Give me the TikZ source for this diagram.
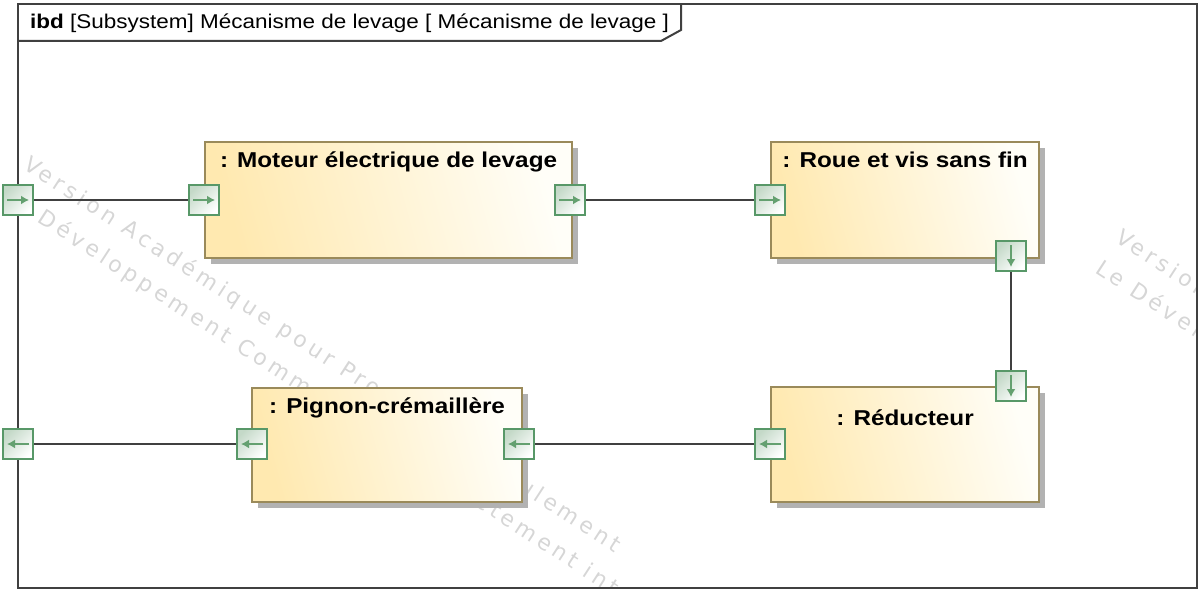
\documentclass[tikz,border=0pt]{standalone}
\usepackage{fontspec}
\setmainfont{Liberation Sans}[FakeStretch=1.13]
\newfontfamily\wmfont{DejaVu Sans}[LetterSpace=19]
\usetikzlibrary{arrows.meta,shadows}

\definecolor{frameline}{RGB}{64,64,64}
\definecolor{partedge}{RGB}{154,138,90}
\definecolor{partfill}{RGB}{255,233,176}
\definecolor{partwhite}{RGB}{255,254,248}
\definecolor{portedge}{RGB}{88,152,104}
\definecolor{portfill}{RGB}{196,217,200}
\definecolor{portarrow}{RGB}{100,160,112}
\definecolor{wmgray}{RGB}{214,214,214}

\begin{document}
\begin{tikzpicture}[x=1pt,y=-1pt,
  part/.style={draw=partedge, line width=2.2pt, left color=partfill, right color=partwhite,
    shading angle=105, anchor=north west, inner sep=0pt,
    drop shadow={shadow xshift=6pt, shadow yshift=-6pt, opacity=1, fill=black!30}},
  title/.style={anchor=base, yshift=-26pt, inner sep=0pt, font=\fontsize{21.5}{24}\selectfont\bfseries},
  port/.style={draw=portedge, line width=2.4pt, top color=portfill, bottom color=white,
    shading angle=45, minimum size=30pt, inner sep=0pt},
  parrow/.style={portarrow, line width=1.8pt, -{Latex[length=8pt,width=9pt]}},
  portR/.style={port, path picture={\draw[parrow] ([xshift=4pt]path picture bounding box.west) -- ([xshift=-4pt]path picture bounding box.east);}},
  portL/.style={port, path picture={\draw[parrow] ([xshift=-4pt]path picture bounding box.east) -- ([xshift=4pt]path picture bounding box.west);}},
  portD/.style={port, path picture={\draw[parrow] ([yshift=-4pt]path picture bounding box.north) -- ([yshift=4pt]path picture bounding box.south);}},
  conn/.style={draw=frameline, line width=2pt},
  wm/.style={anchor=base west, rotate=-33, text=wmgray, inner sep=0pt, font=\wmfont\fontsize{22}{24}\selectfont}]
\useasboundingbox (0,0) rectangle (1203,594);

% watermark
\begin{scope}
\clip (18,4) rectangle (1197,588);
\node[wm] (wmA) at (22,168) {Version Académique pour Professeurs seulement};
\node[wm] (wmB) at (2,199) {Le Développement Commercial est strictement interdit};
\node[wm] (wmC) at (1114,241) {Version Académique pour Professeurs seulement};
\node[wm] (wmD) at (1094,272) {Le Développement Commercial est strictement interdit};
\end{scope}

% frame
\draw[conn] (18,4) rectangle (1197,588);
\draw[conn] (18,41) -- (661,41) -- (681,30) -- (681,4);
\node[anchor=base west, inner sep=0pt, font=\fontsize{19.9}{22}\selectfont] (hdr) at (30,29)
  {\textbf{ibd} [Subsystem] Mécanisme de levage [ Mécanisme de levage ]};

% parts
\node[part, minimum width=367pt, minimum height=116pt, label={[title,name=motT]north:{: Moteur électrique de levage}}] (mot) at (204,141) {};
\node[part, minimum width=268pt, minimum height=116pt, label={[title,name=roueT]north:{: Roue et vis sans fin}}] (roue) at (770,141) {};
\node[part, minimum width=268pt, minimum height=115pt, label={[title,yshift=-13pt,name=redT]north:{: Réducteur}}] (red) at (770,386) {};
\node[part, minimum width=270pt, minimum height=114pt, label={[title,name=pigT]north:{: Pignon-crémaillère}}] (pig) at (251,387) {};

% ports
\node[portR] (frIn) at (18,200) {};
\node[portR] (motIn) at (204,200) {};
\node[portR] (motOut) at (570,200) {};
\node[portR] (roueIn) at (770,200) {};
\node[portD] (roueOut) at (1011,256) {};
\node[portD] (redIn) at (1011,386) {};
\node[portL] (redOut) at (770,444) {};
\node[portL] (pigIn) at (519,444) {};
\node[portL] (pigOut) at (252,444) {};
\node[portL] (frOut) at (18,444) {};

% connectors
\draw[conn] (frIn) -- (motIn);
\draw[conn] (motOut) -- (roueIn);
\draw[conn] (roueOut) -- (redIn);
\draw[conn] (redOut) -- (pigIn);
\draw[conn] (pigOut) -- (frOut);
\end{tikzpicture}
\end{document}
